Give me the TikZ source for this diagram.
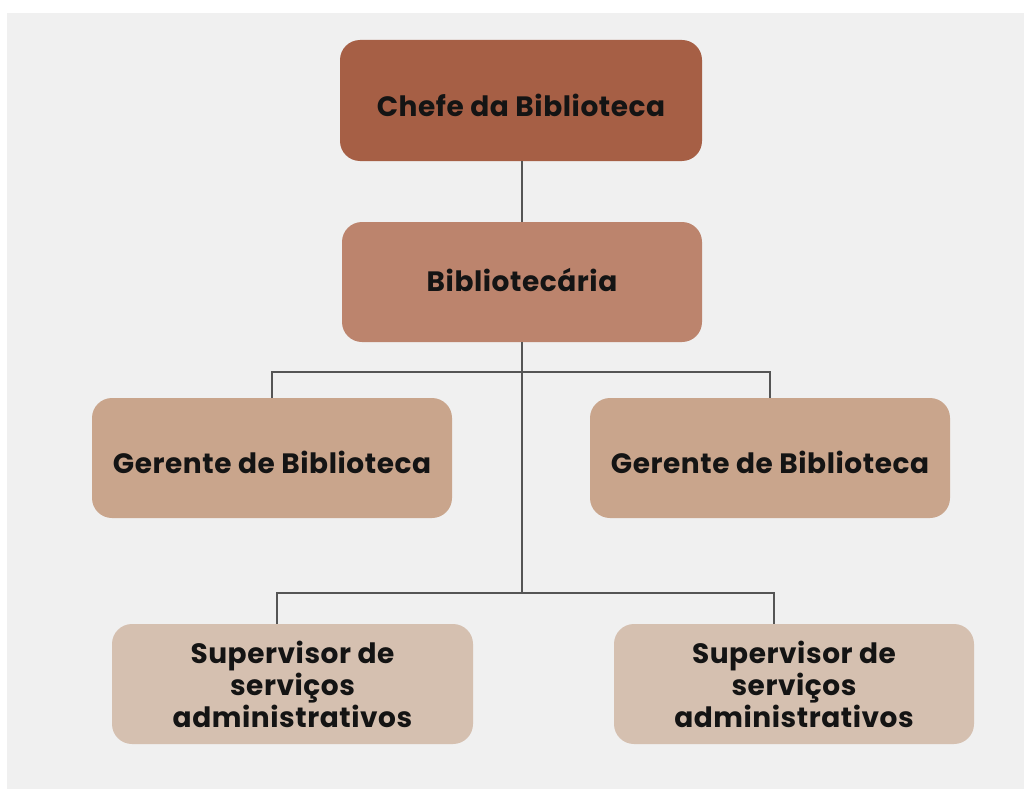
\documentclass[tikz,border=0pt]{standalone}
\usepackage{fontspec}
\newfontfamily\labfont{Poppins}[LetterSpace=2]
\usetikzlibrary{calc}
\definecolor{bggray}{HTML}{F0F0F0}
\definecolor{cA}{HTML}{A65F45}
\definecolor{cB}{HTML}{BC846D}
\definecolor{cC}{HTML}{C9A58C}
\definecolor{cD}{HTML}{D5C0B0}
\definecolor{linec}{HTML}{555555}
\definecolor{txt}{HTML}{141414}
\newcommand{\lowertext}[2]{\raisebox{#1}[\height][\depth]{#2}}
\tikzset{
  box/.style={rectangle, rounded corners=20pt, minimum width=360pt, minimum height=120pt,
    inner sep=0pt, align=center, text=txt,
    font=\labfont\bfseries\fontsize{28}{32}\selectfont},
  conn/.style={draw=linec, line width=2pt}
}
\begin{document}
\begin{tikzpicture}[x=1pt,y=-1pt]
\useasboundingbox (0,0) rectangle (1024,789);
\fill[white] (0,0) rectangle (1024,789);
\fill[bggray] (7,13) rectangle (1024,789);
\node[box, fill=cA, minimum width=362pt, minimum height=121pt] (chefe) at (521,100.5) {\lowertext{-5pt}{Chefe da Biblioteca}};
\node[box, fill=cB] (bib) at (522,282) {\lowertext{2pt}{Bibliotecária}};
\node[box, fill=cC] (g1) at (272,458) {\lowertext{-4pt}{Gerente de Biblioteca}};
\node[box, fill=cC] (g2) at (770,458) {\lowertext{-4pt}{Gerente de Biblioteca}};
\node[box, fill=cD, minimum width=361pt] (s1) at (292.5,684) {Supervisor de\\serviços\\administrativos};
\node[box, fill=cD] (s2) at (794,684) {Supervisor de\\serviços\\administrativos};
\coordinate (j1) at (522,372);
\coordinate (j2) at (522,593);
\draw[conn] (chefe.south -| bib.north) -- (bib.north);
\draw[conn] (bib.south) -- (j2);
\draw[conn] (g1.north) |- (j1) -| (g2.north);
\draw[conn] ($(s1.north)+(-15.5,0)$) |- (j2) -| ($(s2.north)+(-20,0)$);
\end{tikzpicture}
\end{document}
